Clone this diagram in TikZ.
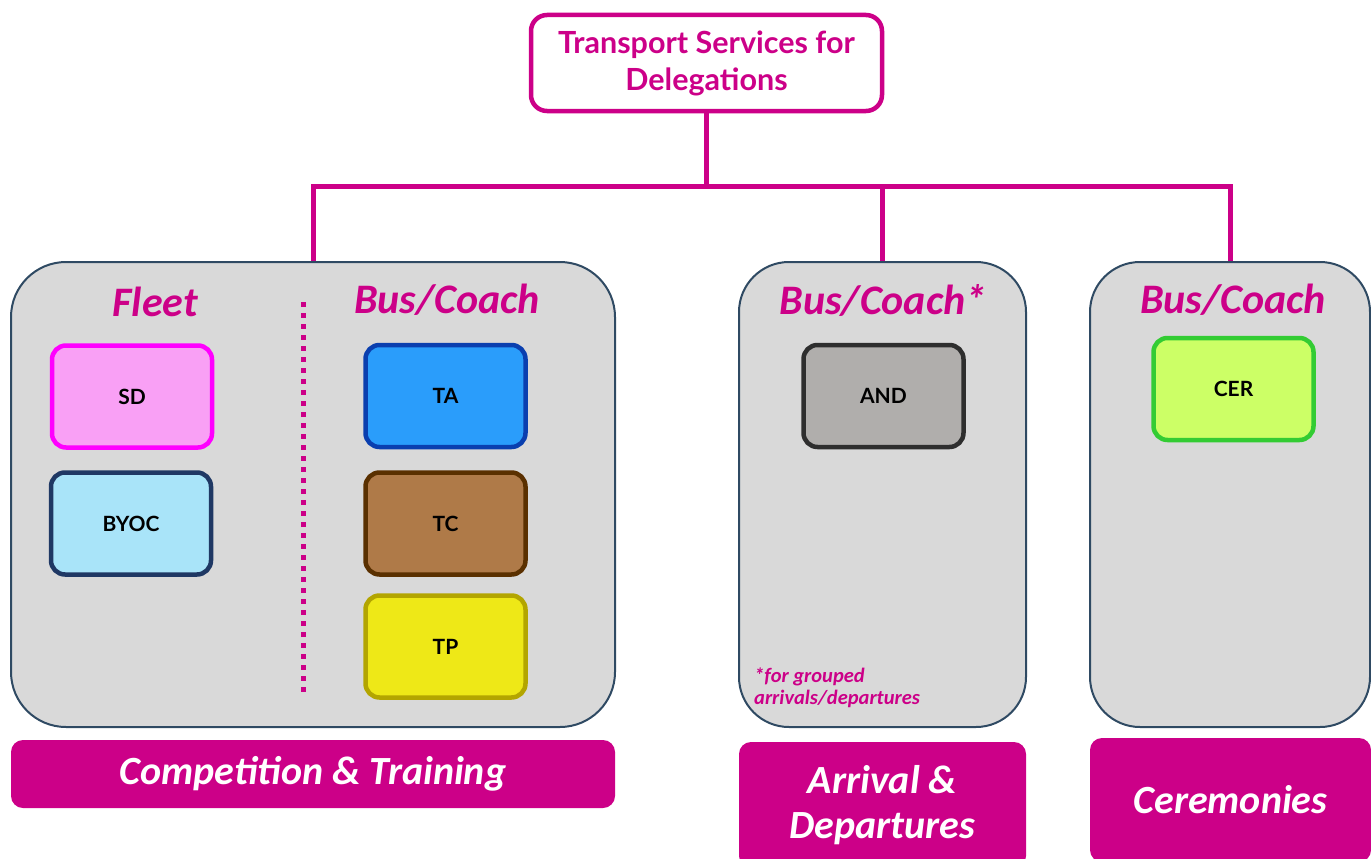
\documentclass[tikz,border=0pt]{standalone}
\usepackage{fontspec}
\setmainfont{Lato}
\newfontfamily\headfont{Carlito}
\definecolor{mymagenta}{HTML}{CC0088}
\definecolor{mygrey}{HTML}{D9D9D9}
\definecolor{myslate}{HTML}{2F4A63}
\definecolor{mypink}{HTML}{FF00FF}
\usetikzlibrary{positioning}

\tikzset{
  zone/.style={draw=myslate, fill=mygrey, line width=2pt, rounded corners=55pt, inner sep=0pt},
  tag/.style={rounded corners=14pt, line width=4.5pt, inner sep=0pt,
    minimum width=160pt, minimum height=102pt, font=\bfseries\fontsize{21}{25}\selectfont},
  head/.style={text=mymagenta, font=\headfont\bfseries\itshape\fontsize{42}{48}\selectfont},
  band/.style={fill=mymagenta, rounded corners=12pt, text=white, align=center, inner sep=0pt,
    font=\headfont\bfseries\itshape\fontsize{40}{45}\selectfont},
  link/.style={mymagenta, line width=5pt, line cap=rect},
}

\begin{document}
\begin{tikzpicture}[x=1pt,y=-1pt]
        \useasboundingbox (0,0) rectangle (1371,859);

        % Top
        \node[draw=mymagenta, line width=4.5pt, rounded corners=16pt, minimum width=351pt,
              minimum height=96pt, align=center, text=mymagenta,
              font=\bfseries\fontsize{30.5}{37}\selectfont] (title) at (706.5,63)
              {Transport Services for\\Delegations};
        \coordinate (bar) at (706.5,186);
        \coordinate (ctdrop) at (313,262);
        \coordinate (addrop) at (882.5,262);
        \coordinate (cerdrop) at (1230,262);

        % Links
        \draw[link] (title.south) -- (bar);
        \draw[link] (bar) -| (ctdrop);
        \draw[link] (bar) -| (addrop);
        \draw[link] (bar) -| (cerdrop);

        % Zones
        \node[zone, minimum width=604pt, minimum height=465pt] (ctzone) at (313,494.5) {};
        \node[zone, minimum width=287pt, minimum height=465pt, rounded corners=50pt] (adzone) at (882.5,494.5) {};
        \node[zone, minimum width=280pt, minimum height=465pt, rounded corners=50pt] (cerzone) at (1230,494.5) {};

        % Headings
        \node[head] (fleet) at (155,302) {Fleet};
        \node[head] (ctbus) at (447,300) {Bus/Coach};
        \node[head] (adbus) at (883,300) {Bus/Coach*};
        \node[head] (cerbus) at (1233,300) {Bus/Coach};
        \draw[mymagenta, line width=5pt, dash pattern=on 5pt off 6pt] (303,302) -- (303,695);

        % Services
        \node[tag, draw=mypink, fill={rgb,255:red,249;green,160;blue,245}] (sd) at (132,396.5) {SD};
        \node[tag, draw={rgb,255:red,31;green,56;blue,100}, fill={rgb,255:red,169;green,228;blue,249}] (byoc) at (131,523.5) {BYOC};
        \node[tag, draw={rgb,255:red,10;green,63;blue,175}, fill={rgb,255:red,42;green,157;blue,251}] (ta) at (445.5,396) {TA};
        \node[tag, draw={rgb,255:red,90;green,48;blue,0}, fill={rgb,255:red,175;green,122;blue,72}] (tc) at (445.5,523.5) {TC};
        \node[tag, draw={rgb,255:red,179;green,165;blue,0}, fill={rgb,255:red,238;green,232;blue,23}] (tp) at (445.5,646.5) {TP};
        \node[tag, draw={rgb,255:red,46;green,46;blue,46}, fill={rgb,255:red,176;green,174;blue,172}] (and) at (883.5,396) {AND};
        \node[tag, draw={rgb,255:red,51;green,204;blue,51}, fill={rgb,255:red,204;green,255;blue,102}] (cer) at (1233.5,389) {CER};

        \node[anchor=north west, align=left, inner sep=0pt, text=mymagenta,
              font=\headfont\bfseries\itshape\fontsize{20.5}{22}\selectfont] (note) at (754,668)
              {*for grouped\\arrivals/departures};

        % Bands
        \node[band, minimum width=604pt, minimum height=68pt] (ctband) at (313,774) {Competition \& Training};
        \node[band, minimum width=287pt, minimum height=126pt] (adband) at (882.5,805) {Arrival \&\\Departures};
        \node[band, minimum width=281pt, minimum height=124pt] (cerband) at (1230.5,800) {Ceremonies};
\end{tikzpicture}
\end{document}
